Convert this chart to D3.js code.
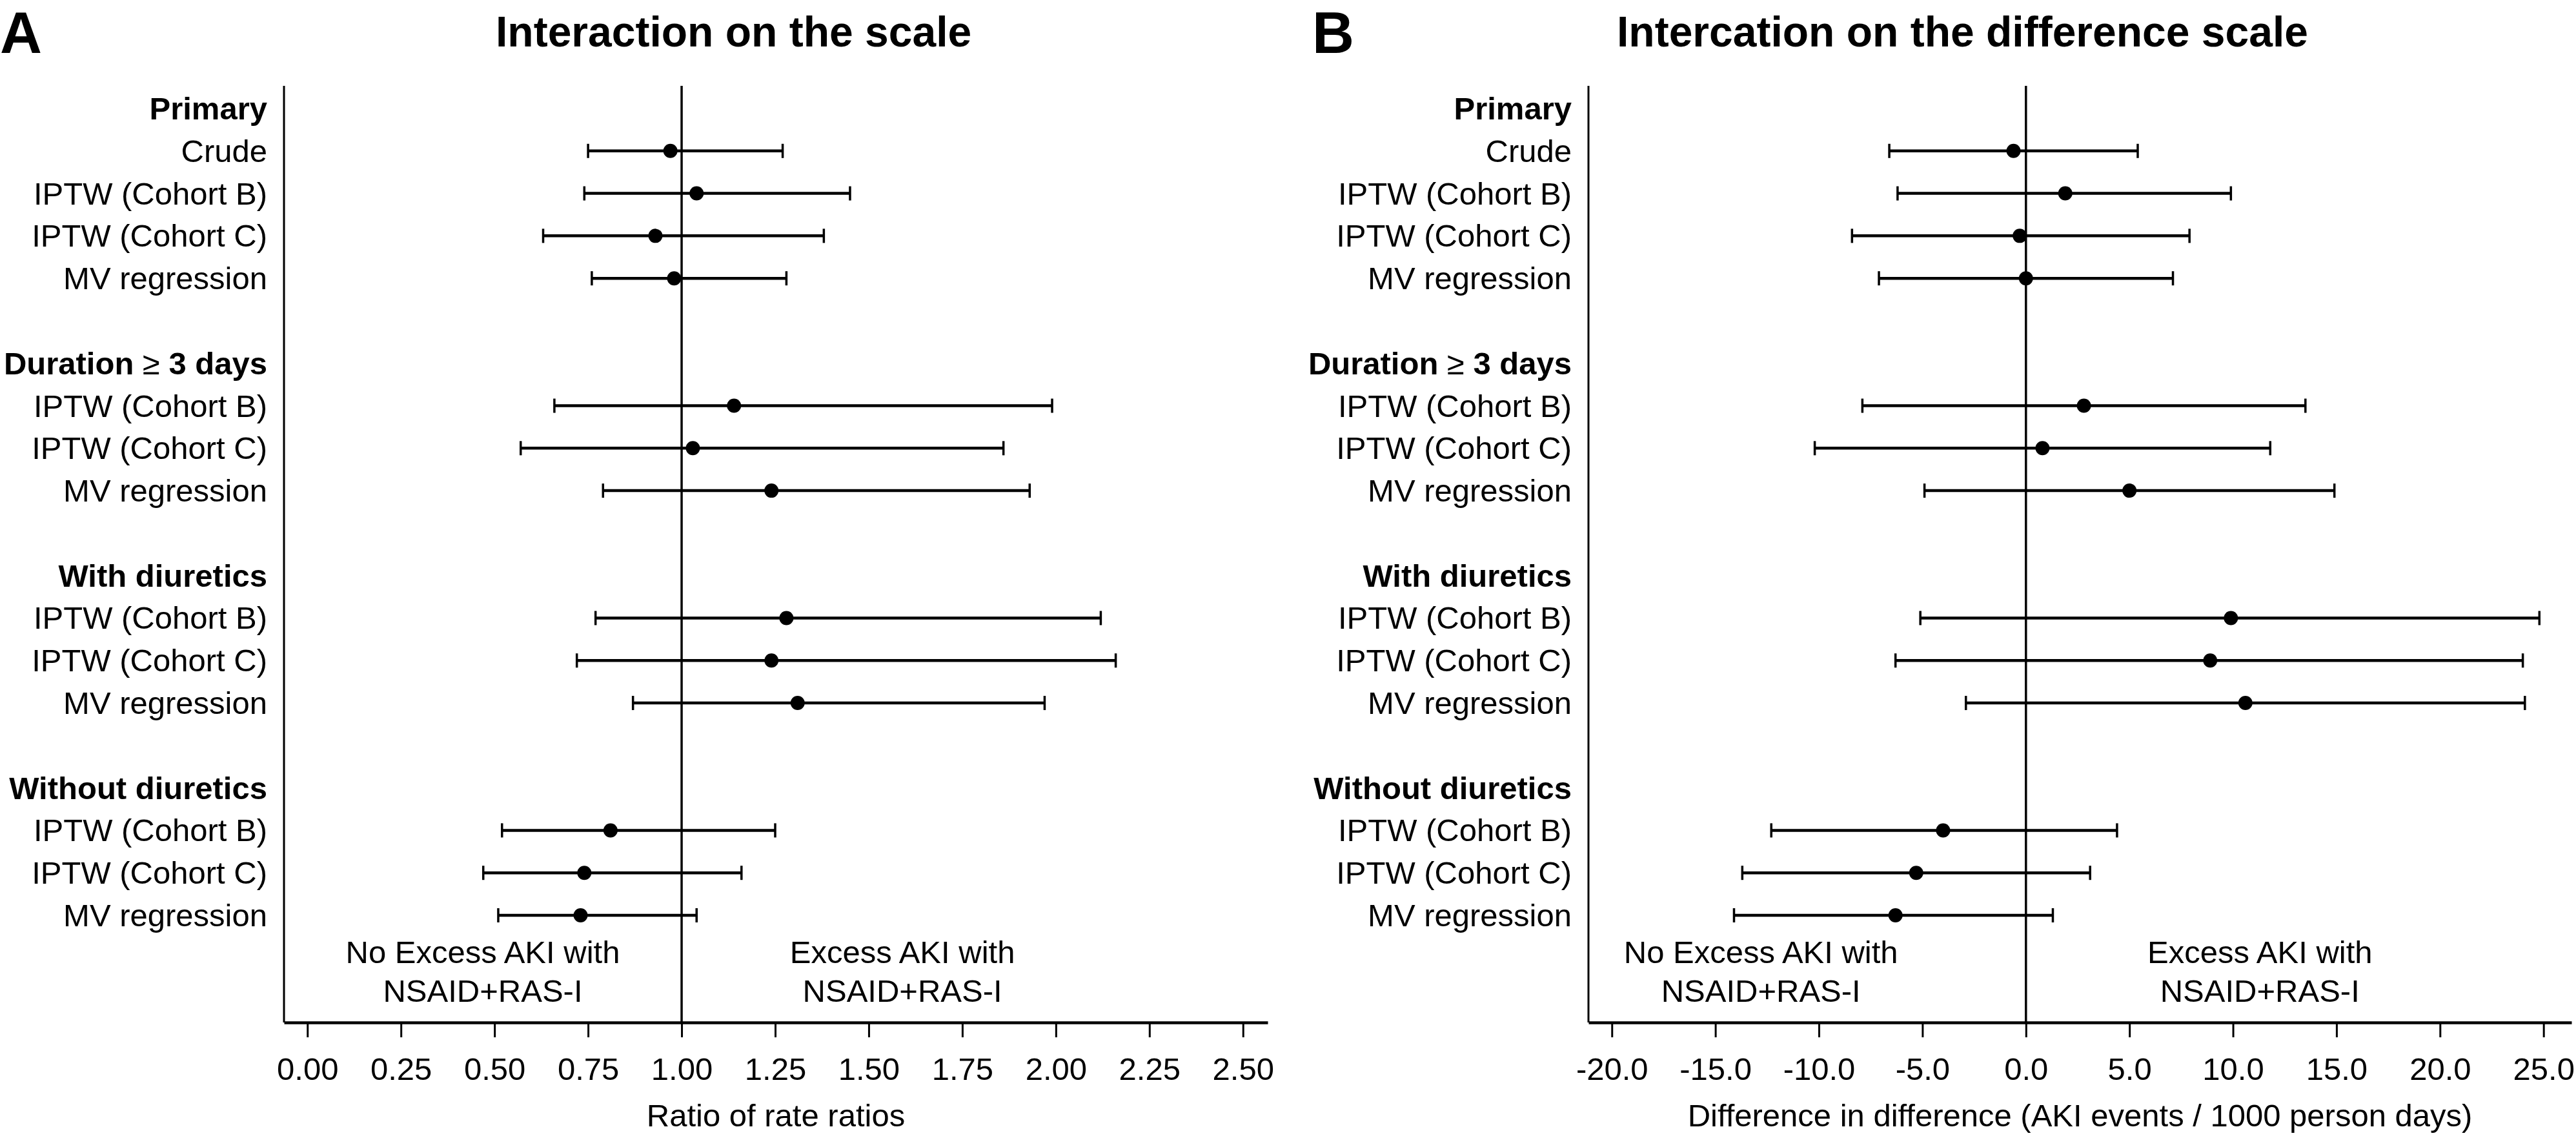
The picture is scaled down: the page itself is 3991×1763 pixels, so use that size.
<!DOCTYPE html>
<html>
<head>
<meta charset="utf-8">
<script src="https://cdn.jsdelivr.net/npm/d3@7"></script>
<style>
  html, body { margin: 0; padding: 0; background: #fff; }
  svg { display: block; font-family: "Liberation Sans", Arial, Helvetica, sans-serif; }
</style>
</head>
<body>
<svg id="chart" width="3991" height="1763"></svg>
<script>
// ---------- DATA ----------
const groups = ["Primary", "Duration \u2265 3 days", "With diuretics", "Without diuretics"];
const groupMethods = [
  ["Crude", "IPTW (Cohort B)", "IPTW (Cohort C)", "MV regression"],
  ["IPTW (Cohort B)", "IPTW (Cohort C)", "MV regression"],
  ["IPTW (Cohort B)", "IPTW (Cohort C)", "MV regression"],
  ["IPTW (Cohort B)", "IPTW (Cohort C)", "MV regression"]
];
// Panel A: ratio of rate ratios (estimate, lower, upper), rows in order
const ratioEst  = [0.97, 1.04, 0.93, 0.98,  1.14, 1.03, 1.24,  1.28, 1.24, 1.31,  0.81, 0.74, 0.73];
const ratioLow  = [0.75, 0.74, 0.63, 0.76,  0.66, 0.57, 0.79,  0.77, 0.72, 0.87,  0.52, 0.47, 0.51];
const ratioHigh = [1.27, 1.45, 1.38, 1.28,  1.99, 1.86, 1.93,  2.12, 2.16, 1.97,  1.25, 1.16, 1.04];
// Panel B: difference in difference (AKI events / 1000 person days)
const diffEst  = [-0.6, 1.9, -0.3, 0.0,   2.8, 0.8, 5.0,    9.9, 8.9, 10.6,   -4.0, -5.3, -6.3];
const diffLow  = [-6.6, -6.2, -8.4, -7.1, -7.9, -10.2, -4.9, -5.1, -6.3, -2.9, -12.3, -13.7, -14.1];
const diffHigh = [5.4, 9.9, 7.9, 7.1,     13.5, 11.8, 14.9, 24.8, 24.0, 24.1, 4.4, 3.1, 1.3];

const ratioTicks = [0, 0.25, 0.5, 0.75, 1, 1.25, 1.5, 1.75, 2, 2.25, 2.5];
const diffTicks  = [-20, -15, -10, -5, 0, 5, 10, 15, 20, 25];

// ---------- LAYOUT ----------
const svg = d3.select("#chart");
const FONT = 49;

// Build row index list: header, methods, blank spacer
const rows = [];
let idx = 0, k = 0;
groups.forEach((g, gi) => {
  rows.push({ label: g, header: true, i: idx++ });
  groupMethods[gi].forEach(m => { rows.push({ label: m, header: false, i: idx++, k: k++ }); });
  idx++; // spacer row
});
const y = d3.scaleLinear().domain([0, 19]).range([168, 1418]);

const yTop = 133, yAxis = 1584;

function panel(opts) {
  const { x, refVal, est, low, high, ticks, fmt, letter, letterX, title, titleX, xTitle, annLeft, annRight } = opts;
  const g = svg.append("g");
  const x0 = x.range()[0];

  // panel letter and title
  g.append("text").attr("x", letterX).attr("y", 82).attr("font-size", 90).attr("font-weight", "bold").text(letter);
  g.append("text").attr("x", titleX).attr("y", 72).attr("font-size", 66).attr("font-weight", "bold").text(title);

  // row labels
  rows.forEach(r => {
    const t = g.append("text").attr("x", x0 - 26).attr("y", y(r.i) + 17)
      .attr("text-anchor", "end").attr("font-size", FONT)
      .attr("font-weight", r.header ? "bold" : "normal");
    if (r.header && r.label.indexOf("\u2265") >= 0) {
      const parts = r.label.split("\u2265");
      t.append("tspan").text(parts[0]);
      t.append("tspan").attr("font-weight", "normal").text("\u2265");
      t.append("tspan").text(parts[1]);
    } else {
      t.text(r.label);
    }
  });

  // y axis line
  g.append("line").attr("x1", x0).attr("x2", x0).attr("y1", yTop).attr("y2", yAxis)
    .attr("stroke", "#000").attr("stroke-width", 3);
  // reference line
  g.append("line").attr("x1", x(refVal)).attr("x2", x(refVal)).attr("y1", yTop).attr("y2", yAxis)
    .attr("stroke", "#000").attr("stroke-width", 3.5);

  // x axis
  const ax = g.append("g").attr("transform", `translate(0,${yAxis})`)
    .call(d3.axisBottom(x).tickValues(ticks).tickFormat(fmt).tickSize(23).tickSizeOuter(0).tickPadding(31));
  ax.select(".domain").attr("stroke-width", 4.5);
  ax.selectAll(".tick line").attr("stroke-width", 3);
  ax.selectAll(".tick text").attr("font-size", FONT).attr("font-family", "Liberation Sans, Arial, sans-serif").attr("fill", "#000");

  // axis title
  const [r0, r1] = x.range();
  g.append("text").attr("x", (r0 + r1) / 2).attr("y", 1745).attr("text-anchor", "middle")
    .attr("font-size", FONT).text(xTitle);

  // annotations
  [[annLeft, ["No Excess AKI with", "NSAID+RAS-I"]], [annRight, ["Excess AKI with", "NSAID+RAS-I"]]].forEach(([ax_, lines]) => {
    lines.forEach((l, li) => {
      g.append("text").attr("x", ax_).attr("y", 1492 + li * 60).attr("text-anchor", "middle")
        .attr("font-size", FONT).text(l);
    });
  });

  // error bars + points
  const dataRows = rows.filter(r => !r.header);
  const eb = g.append("g");
  dataRows.forEach(r => {
    const yy = y(r.i);
    eb.append("line").attr("x1", x(low[r.k])).attr("x2", x(high[r.k])).attr("y1", yy).attr("y2", yy)
      .attr("stroke", "#000").attr("stroke-width", 4.5);
    [low[r.k], high[r.k]].forEach(v => {
      eb.append("line").attr("x1", x(v)).attr("x2", x(v)).attr("y1", yy - 11).attr("y2", yy + 11)
        .attr("stroke", "#000").attr("stroke-width", 3.5);
    });
    eb.append("circle").attr("cx", x(est[r.k])).attr("cy", yy).attr("r", 11).attr("fill", "#000");
  });
}

const xA = d3.scaleLinear().domain([-0.0625, 2.566]).range([440, 1964]);
const xB = d3.scaleLinear().domain([-21.13, 26.35]).range([2461, 3984]);

panel({
  x: xA, refVal: 1, est: ratioEst, low: ratioLow, high: ratioHigh,
  ticks: ratioTicks, fmt: d => d.toFixed(2),
  letter: "A", letterX: 0, title: "Interaction on the scale", titleX: 768,
  xTitle: "Ratio of rate ratios",
  annLeft: (xA(xA.domain()[0]) + xA(1)) / 2, annRight: xA(1.59)
});

panel({
  x: xB, refVal: 0, est: diffEst, low: diffLow, high: diffHigh,
  ticks: diffTicks, fmt: d => d.toFixed(1),
  letter: "B", letterX: 2033, title: "Intercation on the difference scale", titleX: 2505,
  xTitle: "Difference in difference (AKI events / 1000 person days)",
  annLeft: xB(-12.8), annRight: xB(11.3)
});
</script>
</body>
</html>
